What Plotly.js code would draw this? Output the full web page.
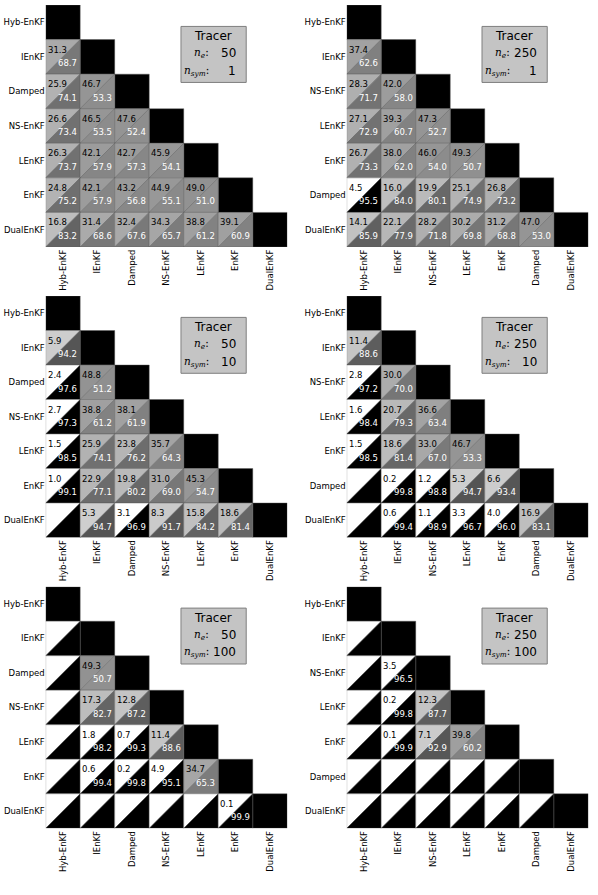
<!DOCTYPE html>
<html>
<head>
<meta charset="utf-8">
<script src="https://cdn.plot.ly/plotly-3.0.1.min.js"></script>
<style>
  html, body { margin: 0; padding: 0; background: #fff; }
  #chart { width: 598px; height: 895px; }
</style>
</head>
<body>
<div id="chart"></div>
<script>
'use strict'
/* Pairwise comparison triangles, Tracer experiment, 6 panels */

/* Method orderings (rows / columns) */
var methodsA = ['Hyb-EnKF', 'IEnKF', 'Damped', 'NS-EnKF', 'LEnKF', 'EnKF', 'DualEnKF'];
var methodsB = ['Hyb-EnKF', 'IEnKF', 'NS-EnKF', 'LEnKF', 'EnKF', 'Damped', 'DualEnKF'];

/* Settings of each panel */
var ensembleSizes = [50, 250, 50, 250, 50, 250];
var syncSteps = [1, 1, 10, 10, 100, 100];

/* Upper-left values (row i, columns 0..i-1), starting at row 1 */
var upper1 = [[31.3], [25.9, 46.7], [26.6, 46.5, 47.6], [26.3, 42.1, 42.7, 45.9],
              [24.8, 42.1, 43.2, 44.9, 49.0], [16.8, 31.4, 32.4, 34.3, 38.8, 39.1]];
var lower1 = [[68.7], [74.1, 53.3], [73.4, 53.5, 52.4], [73.7, 57.9, 57.3, 54.1],
              [75.2, 57.9, 56.8, 55.1, 51.0], [83.2, 68.6, 67.6, 65.7, 61.2, 60.9]];

var upper2 = [[37.4], [28.3, 42.0], [27.1, 39.3, 47.3], [26.7, 38.0, 46.0, 49.3],
              [4.5, 16.0, 19.9, 25.1, 26.8], [14.1, 22.1, 28.2, 30.2, 31.2, 47.0]];
var lower2 = [[62.6], [71.7, 58.0], [72.9, 60.7, 52.7], [73.3, 62.0, 54.0, 50.7],
              [95.5, 84.0, 80.1, 74.9, 73.2], [85.9, 77.9, 71.8, 69.8, 68.8, 53.0]];

var upper3 = [[5.9], [2.4, 48.8], [2.7, 38.8, 38.1], [1.5, 25.9, 23.8, 35.7],
              [1.0, 22.9, 19.8, 31.0, 45.3], [0.0, 5.3, 3.1, 8.3, 15.8, 18.6]];
var lower3 = [[94.2], [97.6, 51.2], [97.3, 61.2, 61.9], [98.5, 74.1, 76.2, 64.3],
              [99.1, 77.1, 80.2, 69.0, 54.7], [100.0, 94.7, 96.9, 91.7, 84.2, 81.4]];

var upper4 = [[11.4], [2.8, 30.0], [1.6, 20.7, 36.6], [1.5, 18.6, 33.0, 46.7],
              [0.0, 0.2, 1.2, 5.3, 6.6], [0.0, 0.6, 1.1, 3.3, 4.0, 16.9]];
var lower4 = [[88.6], [97.2, 70.0], [98.4, 79.3, 63.4], [98.5, 81.4, 67.0, 53.3],
              [100.0, 99.8, 98.8, 94.7, 93.4], [100.0, 99.4, 98.9, 96.7, 96.0, 83.1]];

var upper5 = [[0.0], [0.0, 49.3], [0.0, 17.3, 12.8], [0.0, 1.8, 0.7, 11.4],
              [0.0, 0.6, 0.2, 4.9, 34.7], [0.0, 0.0, 0.0, 0.0, 0.0, 0.1]];
var lower5 = [[100.0], [100.0, 50.7], [100.0, 82.7, 87.2], [100.0, 98.2, 99.3, 88.6],
              [100.0, 99.4, 99.8, 95.1, 65.3], [100.0, 100.0, 100.0, 100.0, 100.0, 99.9]];

var upper6 = [[0.0], [0.0, 3.5], [0.0, 0.2, 12.3], [0.0, 0.1, 7.1, 39.8],
              [0.0, 0.0, 0.0, 0.0, 0.0], [0.0, 0.0, 0.0, 0.0, 0.0, 0.0]];
var lower6 = [[100.0], [100.0, 96.5], [100.0, 99.8, 87.7], [100.0, 99.9, 92.9, 60.2],
              [100.0, 100.0, 100.0, 100.0, 100.0], [100.0, 100.0, 100.0, 100.0, 100.0, 100.0]];

var panels = [
    {labels: methodsA, upper: upper1, lower: lower1},
    {labels: methodsB, upper: upper2, lower: lower2},
    {labels: methodsA, upper: upper3, lower: lower3},
    {labels: methodsB, upper: upper4, lower: lower4},
    {labels: methodsA, upper: upper5, lower: lower5},
    {labels: methodsB, upper: upper6, lower: lower6}
];

/* Grey level of a triangle: significant (>95%) cases are pure black/white */
function shade(v){
    if(v < 5) return '#ffffff';
    if(v > 95) return '#000000';
    var g = Math.round(213 - 1.36 * v);
    return 'rgb(' + g + ',' + g + ',' + g + ')';
}

var xDomains = [[0.0764, 0.4804], [0.5798, 0.9838]];
var yDomains = [[0.72402, 0.99441], [0.39944, 0.66927], [0.07453, 0.34447]];

var traces = [];
var annotations = [];
var shapes = [];
var layout = {
    width: 598,
    height: 895,
    margin: {l: 0, r: 0, t: 0, b: 0},
    paper_bgcolor: '#ffffff',
    plot_bgcolor: 'rgba(0,0,0,0)',
    showlegend: false,
    font: {family: 'DejaVu Sans', color: '#000'}
};

var edge = {color: 'rgba(90,90,90,0.7)', width: 0.6};

function polygon(xs, ys, fill, xa, ya){
    traces.push({
        type: 'scatter', mode: 'lines', fill: 'toself',
        x: xs, y: ys, xaxis: xa, yaxis: ya,
        fillcolor: fill, line: edge, hoverinfo: 'skip'
    });
}

for(var k = 0; k < panels.length; k++){
    var p = panels[k];
    var suffix = k === 0 ? '' : String(k + 1);
    var xa = 'x' + suffix, ya = 'y' + suffix;
    var n = p.labels.length;
    var idx = [];
    for(var i = 0; i < n; i++) idx.push(i);

    layout['xaxis' + suffix] = {
        domain: xDomains[k % 2],
        anchor: ya,
        range: [-0.5, n - 0.5],
        tickvals: idx, ticktext: p.labels,
        tickangle: -90,
        tickfont: {size: 8.5, family: 'DejaVu Sans', color: '#000'},
        showgrid: false, zeroline: false, showline: false,
        ticks: '', fixedrange: true
    };
    layout['yaxis' + suffix] = {
        domain: yDomains[Math.floor(k / 2)],
        anchor: xa,
        range: [n - 0.5, -0.5],
        tickvals: idx, ticktext: p.labels,
        tickfont: {size: 8.5, family: 'DejaVu Sans', color: '#000'},
        showgrid: false, zeroline: false, showline: false,
        ticks: '', fixedrange: true
    };

    /* diagonal: black squares */
    for(var d = 0; d < n; d++){
        polygon([d - 0.5, d + 0.5, d + 0.5, d - 0.5, d - 0.5],
                [d - 0.5, d - 0.5, d + 0.5, d + 0.5, d - 0.5], '#000000', xa, ya);
    }

    /* lower triangle: split cells */
    for(var r = 1; r < n; r++){
        for(var c = 0; c < r; c++){
            var up = p.upper[r - 1][c];
            var lo = p.lower[r - 1][c];
            polygon([c - 0.5, c + 0.5, c - 0.5, c - 0.5],
                    [r - 0.5, r - 0.5, r + 0.5, r - 0.5], shade(up), xa, ya);
            polygon([c + 0.5, c + 0.5, c - 0.5, c + 0.5],
                    [r - 0.5, r + 0.5, r + 0.5, r - 0.5], shade(lo), xa, ya);
            if(up > 0){
                annotations.push({
                    xref: xa, yref: ya, x: c - 0.5, y: r - 0.5,
                    xanchor: 'left', yanchor: 'top', xshift: 0, yshift: -3,
                    text: up.toFixed(1), showarrow: false,
                    font: {size: 8.5, family: 'DejaVu Sans', color: '#000'}
                });
                annotations.push({
                    xref: xa, yref: ya, x: c + 0.5, y: r + 0.5,
                    xanchor: 'right', yanchor: 'bottom', xshift: -1, yshift: 4,
                    text: lo.toFixed(1), showarrow: false,
                    font: {size: 8.5, family: 'DejaVu Sans', color: '#fff'}
                });
            }
        }
    }

    /* info box */
    shapes.push({
        type: 'rect', xref: xa, yref: ya,
        x0: 3.42, x1: 5.31, y0: 0.12, y1: 1.74,
        fillcolor: '#c4c4c4', line: {color: '#7f7f7f', width: 1}, layer: 'above'
    });
    annotations.push({
        xref: xa, yref: ya, x: 4.36, y: 0.40, xanchor: 'center', yanchor: 'middle',
        text: 'Tracer', showarrow: false,
        font: {size: 12, family: 'DejaVu Sans', color: '#000'}
    });
    annotations.push({
        xref: xa, yref: ya, x: 4.28, y: 0.90, xanchor: 'right', yanchor: 'middle',
        text: '<i>n</i><sub><i>e</i></sub>:', showarrow: false,
        font: {size: 10.5, family: 'DejaVu Serif', color: '#000'}
    });
    annotations.push({
        xref: xa, yref: ya, x: 5.08, y: 0.90, xanchor: 'right', yanchor: 'middle',
        text: String(ensembleSizes[k]), showarrow: false,
        font: {size: 12, family: 'DejaVu Sans', color: '#000'}
    });
    annotations.push({
        xref: xa, yref: ya, x: 4.28, y: 1.40, xanchor: 'right', yanchor: 'middle',
        text: '<i>n</i><sub><i>sym</i></sub>:', showarrow: false,
        font: {size: 10.5, family: 'DejaVu Serif', color: '#000'}
    });
    annotations.push({
        xref: xa, yref: ya, x: 5.08, y: 1.40, xanchor: 'right', yanchor: 'middle',
        text: String(syncSteps[k]), showarrow: false,
        font: {size: 12, family: 'DejaVu Sans', color: '#000'}
    });
}

layout.annotations = annotations;
layout.shapes = shapes;

Plotly.newPlot('chart', traces, layout, {displayModeBar: false, staticPlot: true});
</script>
</body>
</html>
